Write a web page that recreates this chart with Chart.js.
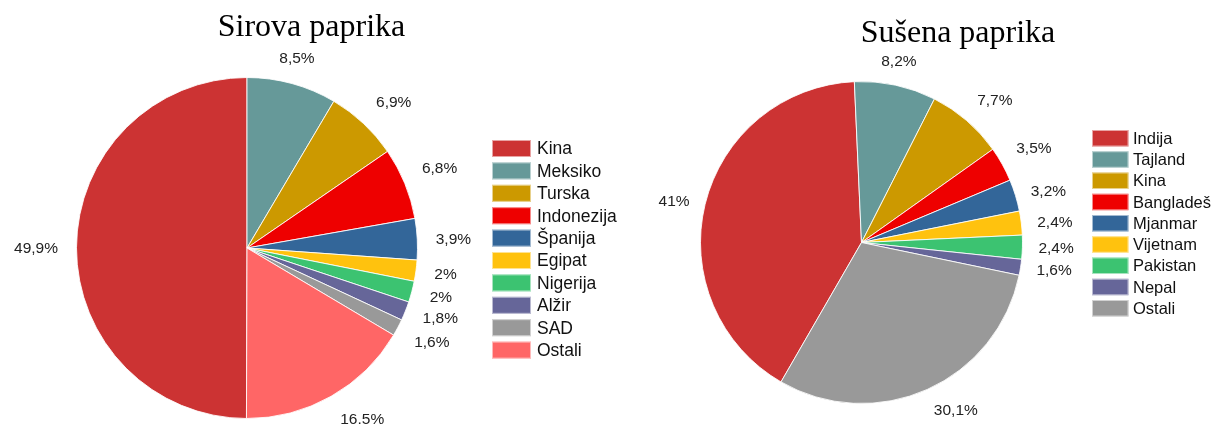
<!DOCTYPE html>
<html><head><meta charset="utf-8">
<script src="https://cdn.jsdelivr.net/npm/chart.js@4.4.0/dist/chart.umd.min.js"></script>
<style>
html,body{margin:0;padding:0;background:#fff;width:1215px;height:427px;overflow:hidden;}
#w1{position:absolute;left:0;top:0;width:640px;height:427px;}
#w2{position:absolute;left:640px;top:0;width:575px;height:427px;}
</style></head><body>
<div id="w1"><canvas id="c1"></canvas></div>
<div id="w2"><canvas id="c2"></canvas></div>
<script>
// ---- data: Sirova paprika ----
const rawTitle = 'Sirova paprika';
const rawCategories = ['Kina','Meksiko','Turska','Indonezija','Španija','Egipat','Nigerija','Alžir','SAD','Ostali'];
const rawValues = [49.9, 8.5, 6.9, 6.8, 3.9, 2, 2, 1.8, 1.6, 16.5];
const rawLabels = ['49,9%','8,5%','6,9%','6,8%','3,9%','2%','2%','1,8%','1,6%','16.5%'];
const rawColors = ['#cc3333','#669999','#cc9900','#ee0000','#336699','#ffc20e','#3cc371','#666699','#999999','#ff6666'];

// ---- data: Sušena paprika ----
const driedTitle = 'Sušena paprika';
const driedCategories = ['Indija','Tajland','Kina','Bangladeš','Mjanmar','Vijetnam','Pakistan','Nepal','Ostali'];
const driedValues = [41, 8.2, 7.7, 3.5, 3.2, 2.4, 2.4, 1.6, 30.1];
const driedLabels = ['41%','8,2%','7,7%','3,5%','3,2%','2,4%','2,4%','1,6%','30,1%'];
const driedColors = ['#cc3333','#669999','#cc9900','#ee0000','#336699','#ffc20e','#3cc371','#666699','#999999'];

const SANS = '"Liberation Sans", Arial, sans-serif';
const SERIF = '"Liberation Serif", "Times New Roman", serif';

const decorPlugin = {
  id: 'decor',
  afterDraw(chart, args, o) {
    const ctx = chart.ctx;
    ctx.save();
    // title
    ctx.font = o.titleSize + 'px ' + SERIF;
    ctx.fillStyle = '#000';
    ctx.textAlign = 'center';
    ctx.textBaseline = 'alphabetic';
    ctx.fillText(o.title, o.titleX, o.titleY);
    // percentage labels outside slices, 8-sector alignment
    const meta = chart.getDatasetMeta(0);
    ctx.font = o.labelSize + 'px ' + SANS;
    ctx.fillStyle = '#222';
    ctx.textBaseline = 'alphabetic';
    const capH = o.labelSize * 0.716;
    meta.data.forEach((arc, i) => {
      const p = arc.getProps(['x','y','startAngle','endAngle','outerRadius'], true);
      const mid = (p.startAngle + p.endAngle) / 2;
      const d = p.outerRadius + o.gap;
      const ax = p.x + Math.cos(mid) * d;
      const ay = p.y + Math.sin(mid) * d;
      let deg = (-mid * 180 / Math.PI) % 360;
      if (deg < 0) deg += 360;
      let h, v;
      if (deg <= 22 || deg >= 338) { h = 'l'; v = 'c'; }
      else if (deg < 67.5) { h = 'l'; v = 'a'; }
      else if (deg < 112.5) { h = 'c'; v = 'a'; }
      else if (deg < 158) { h = 'r'; v = 'a'; }
      else if (deg < 202) { h = 'r'; v = 'c'; }
      else if (deg < 247.5) { h = 'r'; v = 'b'; }
      else if (deg < 292.5) { h = 'c'; v = 'b'; }
      else { h = 'l'; v = 'b'; }
      ctx.textAlign = h === 'l' ? 'left' : (h === 'r' ? 'right' : 'center');
      let by;
      if (v === 'a') by = ay - 3;
      else if (v === 'b') by = ay + capH;
      else by = ay + capH / 2;
      ctx.fillText(o.labels[i], ax, by);
    });
    // legend
    const ds = chart.data.datasets[0];
    ctx.font = o.legendSize + 'px ' + SANS;
    ctx.textAlign = 'left';
    ctx.textBaseline = 'middle';
    chart.data.labels.forEach((lab, i) => {
      const y = o.legY + i * o.legRow;
      ctx.fillStyle = ds.backgroundColor[i];
      ctx.fillRect(o.legX, y, o.boxW, o.boxH);
      ctx.strokeStyle = 'rgba(255,255,255,0.55)';
      ctx.lineWidth = 1;
      ctx.strokeRect(o.legX + 0.5, y + 0.5, o.boxW - 1, o.boxH - 1);
      ctx.fillStyle = '#111';
      ctx.fillText(lab, o.textX, y + o.boxH / 2 + 1);
    });
    ctx.restore();
  }
};

function makePie(id, cats, vals, colors, rotation, padding, decor) {
  return new Chart(document.getElementById(id), {
    type: 'pie',
    data: {
      labels: cats,
      datasets: [{
        data: vals,
        backgroundColor: colors,
        borderColor: 'rgba(255,255,255,0.85)',
        borderWidth: 1
      }]
    },
    options: {
      responsive: true,
      maintainAspectRatio: false,
      animation: false,
      rotation: rotation,
      layout: { padding: padding },
      plugins: {
        legend: { display: false },
        title: { display: false },
        tooltip: { enabled: false },
        decor: decor
      }
    },
    plugins: [decorPlugin]
  });
}

const rawTotal = rawValues.reduce((a, b) => a + b, 0);
makePie('c1', rawCategories, rawValues, rawColors,
  -(rawValues[0] / rawTotal) * 360,
  { left: 76, top: 77, right: 222, bottom: 8 },
  { title: rawTitle, titleX: 311.5, titleY: 36, titleSize: 32,
    labels: rawLabels, labelSize: 15.5, gap: 18.5,
    legendSize: 17.5, legX: 492, legY: 140, legRow: 22.4, boxW: 39, boxH: 17, textX: 537 });

makePie('c2', driedCategories, driedValues, driedColors,
  -150,
  { left: 60, top: 81, right: 192, bottom: 23 },
  { title: driedTitle, titleX: 318, titleY: 42, titleSize: 32,
    labels: driedLabels, labelSize: 15.5, gap: 16,
    legendSize: 16.5, legX: 452, legY: 130, legRow: 21.25, boxW: 36.5, boxH: 16.5, textX: 493 });
</script>
</body></html>
